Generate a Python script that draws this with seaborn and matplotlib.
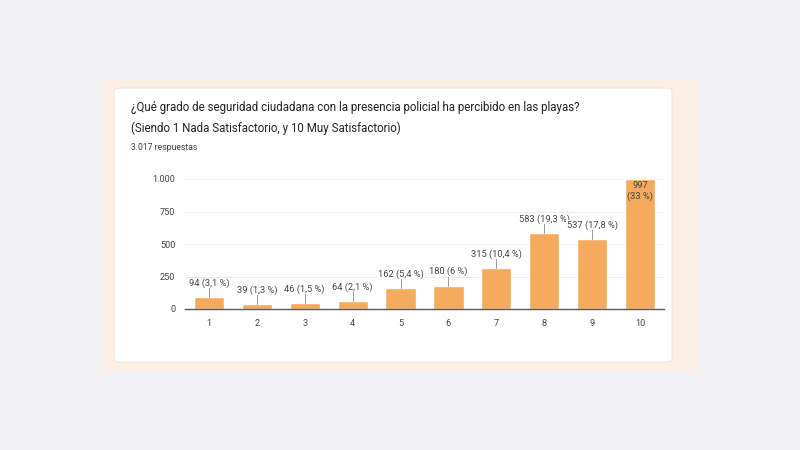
import numpy as np
import pandas as pd
import seaborn as sns
import matplotlib.pyplot as plt
from matplotlib.patches import FancyBboxPatch, Rectangle

# data
scores = ["1", "2", "3", "4", "5", "6", "7", "8", "9", "10"]
counts = [94, 39, 46, 64, 162, 180, 315, 583, 537, 997]
pct_labels = ["3,1 %", "1,3 %", "1,5 %", "2,1 %", "5,4 %", "6 %", "10,4 %", "19,3 %", "17,8 %", "33 %"]
yticks = [0, 250, 500, 750, 1000]
ytick_labels = ["0", "250", "500", "750", "1.000"]

title = "¿Qué grado de seguridad ciudadana con la presencia policial ha percibido en las playas?\n(Siendo 1 Nada Satisfactorio, y 10 Muy Satisfactorio)"
subtitle = "3.017 respuestas"

sns.set_theme(style="white")
plt.rcParams['font.family'] = ['Roboto', 'DejaVu Sans']

fig = plt.figure(figsize=(8, 4.5), dpi=100)
fig.patch.set_facecolor("#f1f1f3")

# peach band and white card behind the chart
fig.patches.append(Rectangle((103 / 800, 1 - 371 / 450), 594 / 800, 291 / 450,
                             transform=fig.transFigure, facecolor="#fcefe3", edgecolor="none", zorder=-2))
fig.patches.append(FancyBboxPatch((114 / 800, 1 - 362 / 450), 558 / 800, 274 / 450,
                                  boxstyle="round,pad=0,rounding_size=0.008",
                                  transform=fig.transFigure, facecolor="white",
                                  edgecolor="#f3e6da", linewidth=0.8, zorder=-1))

fig.text(131 / 800, 1 - 118 / 450, title, fontsize=8.3, color="#202124",
         va="center", ha="left", linespacing=1.75)
fig.text(131 / 800, 1 - 147 / 450, subtitle, fontsize=6.2, color="#3c3c3c", va="center", ha="left")

ax = fig.add_axes([185 / 800, 1 - 309 / 450, 479 / 800, 130 / 450])
ax.set_facecolor("none")
ax.set_zorder(2)

df = pd.DataFrame({"score": scores, "count": counts})
sns.barplot(data=df, x="score", y="count", color="#f5aa5d", saturation=1, width=0.63, ax=ax, zorder=3)

ax.set_xlim(-0.5, 9.5)
ax.set_ylim(0, 1000)
ax.set_yticks(yticks)
ax.set_yticklabels(ytick_labels)
ax.set_xlabel("")
ax.set_ylabel("")
for y in yticks[1:]:
    ax.axhline(y, color="#ececec", linewidth=0.7, zorder=1)
for s in ["top", "right", "left"]:
    ax.spines[s].set_visible(False)
ax.spines["bottom"].set_color("#555a60")
ax.spines["bottom"].set_linewidth(1.0)
ax.spines["bottom"].set_zorder(5)
ax.tick_params(axis="both", length=0, labelsize=6.6, labelcolor="#444444", pad=7)

# value labels with short leader lines
for i, (c, p) in enumerate(zip(counts, pct_labels)):
    if c > 900:
        ax.text(i, c - 12, f"{c}\n({p})", ha="center", va="top", fontsize=6.7,
                color="#444444", linespacing=1.15, zorder=6)
    else:
        ax.plot([i, i], [c, c + 75], color="#888888", linewidth=0.6, zorder=4)
        ax.text(i, c + 70, f"{c} ({p})", ha="center", va="bottom", fontsize=6.7,
                color="#444444", zorder=6, bbox=dict(facecolor="white", edgecolor="none", pad=0.3))

fig.savefig("out.png", dpi=100, facecolor=fig.get_facecolor())
